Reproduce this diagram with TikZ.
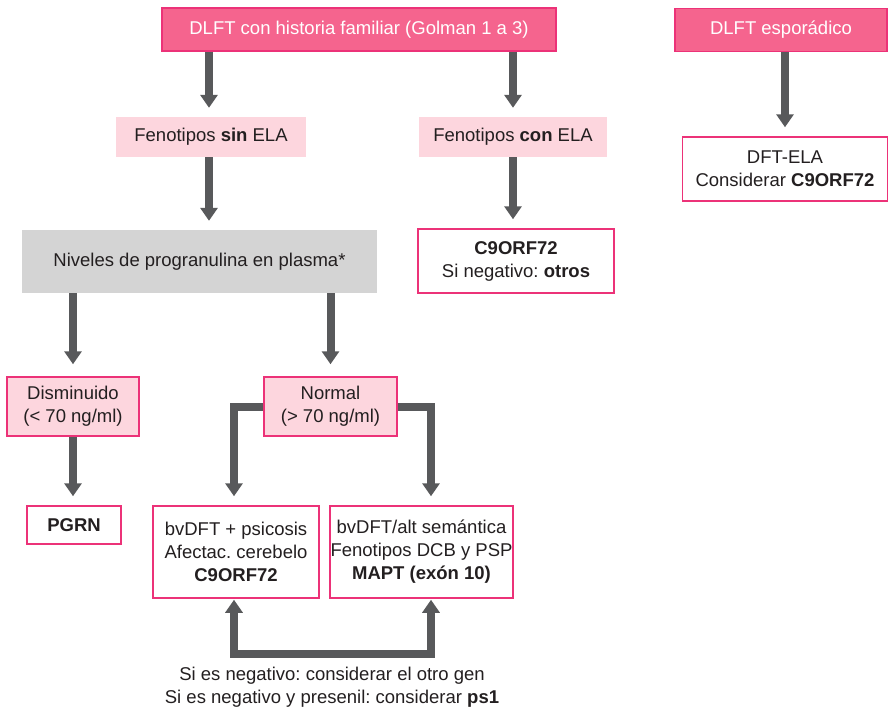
\documentclass[tikz,border=0pt]{standalone}
\usepackage{fontspec}
\setmainfont{Liberation Sans}
\usetikzlibrary{arrows.meta,calc}
\frenchspacing
\definecolor{hotpink}{HTML}{F5648E}
\definecolor{pinkedge}{HTML}{EC3278}
\definecolor{palepink}{HTML}{FDD6DE}
\definecolor{panelgray}{HTML}{D4D4D4}
\definecolor{arrowgray}{HTML}{58595B}
\definecolor{inkdark}{HTML}{231F20}
\begin{document}
\begin{tikzpicture}[x=1pt,y=-1pt,
  every node/.style={font=\fontsize{18.5}{23}\selectfont, text=inkdark, align=center, inner sep=0pt},
  headbox/.style={fill=hotpink, draw=pinkedge, line width=1.5pt, text=white},
  softbox/.style={fill=palepink},
  ringbox/.style={fill=palepink, draw=pinkedge, line width=1.5pt},
  outbox/.style={fill=white, draw=pinkedge, line width=1.5pt},
  graybox/.style={fill=panelgray},
  flow/.style={draw=arrowgray, line width=8pt, line join=miter,
    -{Triangle[width=17pt,length=13pt]}},
  flowboth/.style={draw=arrowgray, line width=8pt, line join=miter,
    {Triangle[width=17pt,length=13pt]}-{Triangle[width=17pt,length=13pt]}}
]
\useasboundingbox (0,0) rectangle (889,707);

% top level
\node[headbox, minimum width=394pt, minimum height=43pt] (fam) at (359,29.5) {DLFT con historia familiar (Golman 1 a 3)};
\node[headbox, minimum width=212pt, minimum height=43pt] (spor) at (781,30) {DLFT esporádico};

% phenotype split
\node[softbox, minimum width=190pt, minimum height=40pt] (sin) at (211,137) {Fenotipos \textbf{sin} ELA};
\node[softbox, minimum width=188pt, minimum height=40pt] (con) at (513,137) {Fenotipos \textbf{con} ELA};

\node[graybox, minimum width=355pt, minimum height=63pt] (niv) at (199.5,261.5) {Niveles de progranulina en plasma*};
\node[outbox, minimum width=196pt, minimum height=64pt] (c9) at (516,261) {\textbf{C9ORF72}\\Si negativo: \textbf{otros}};

\node[outbox, minimum width=205pt, minimum height=64pt] (dftela) at (785,169) {DFT-ELA\\Considerar \textbf{C9ORF72}};

% plasma levels
\node[ringbox, minimum width=132pt, minimum height=59pt] (dism) at (73,406.5) {Disminuido\\(< 70 ng/ml)};
\node[ringbox, minimum width=133pt, minimum height=59pt] (norm) at (330.5,406.5) {Normal\\(> 70 ng/ml)};

\node[outbox, minimum width=94pt, minimum height=38pt] (pgrn) at (74,525) {\textbf{PGRN}};
\node[outbox, minimum width=166pt, minimum height=92pt] (bva) at (236,552) {bvDFT + psicosis\\Afectac. cerebelo\\\textbf{C9ORF72}};
\node[outbox, minimum width=183pt, minimum height=92pt] (bvb) at (421.5,552) {bvDFT/alt semántica\\Fenotipos DCB y PSP\\\textbf{MAPT (exón 10)}};

\node (note) at (332,687) {Si es negativo: considerar el otro gen\\Si es negativo y presenil: considerar \textbf{ps1}};

% connectors
\draw[flow] ($(fam.south -| sin.north)+(-2,0)$) -- ($(sin.north)+(-2,-9)$);
\draw[flow] (fam.south -| con.north) -- ($(con.north)+(0,-9)$);
\draw[flow] (spor.south -| dftela.north) -- ($(dftela.north)+(0,-9)$);
\draw[flow] ($(sin.south)+(-2,0)$) -- ($(niv.north -| sin.south)+(-2,-9)$);
\draw[flow] (con.south) -- ($(c9.north -| con.south)+(0,-9)$);
\draw[flow] (niv.south -| dism.north) -- ($(dism.north)+(0,-12)$);
\draw[flow] (niv.south -| norm.north) -- ($(norm.north)+(0,-12)$);
\draw[flow] (dism.south) -- ($(pgrn.north -| dism.south)+(0,-9)$);
\draw[flow] ($(norm.west)+(0,0.5)$) -| ($(bva.north)+(-2,-9)$);
\draw[flow] ($(norm.east)+(0,0.5)$) -| ($(bvb.north)+(9.5,-9)$);
\coordinate (loop) at ($(bva.south)+(-2,55)$);
\draw[flowboth] ($(bva.south)+(-2,1)$) -- (loop) -| ($(bvb.south)+(9.5,1)$);
\end{tikzpicture}
\end{document}
